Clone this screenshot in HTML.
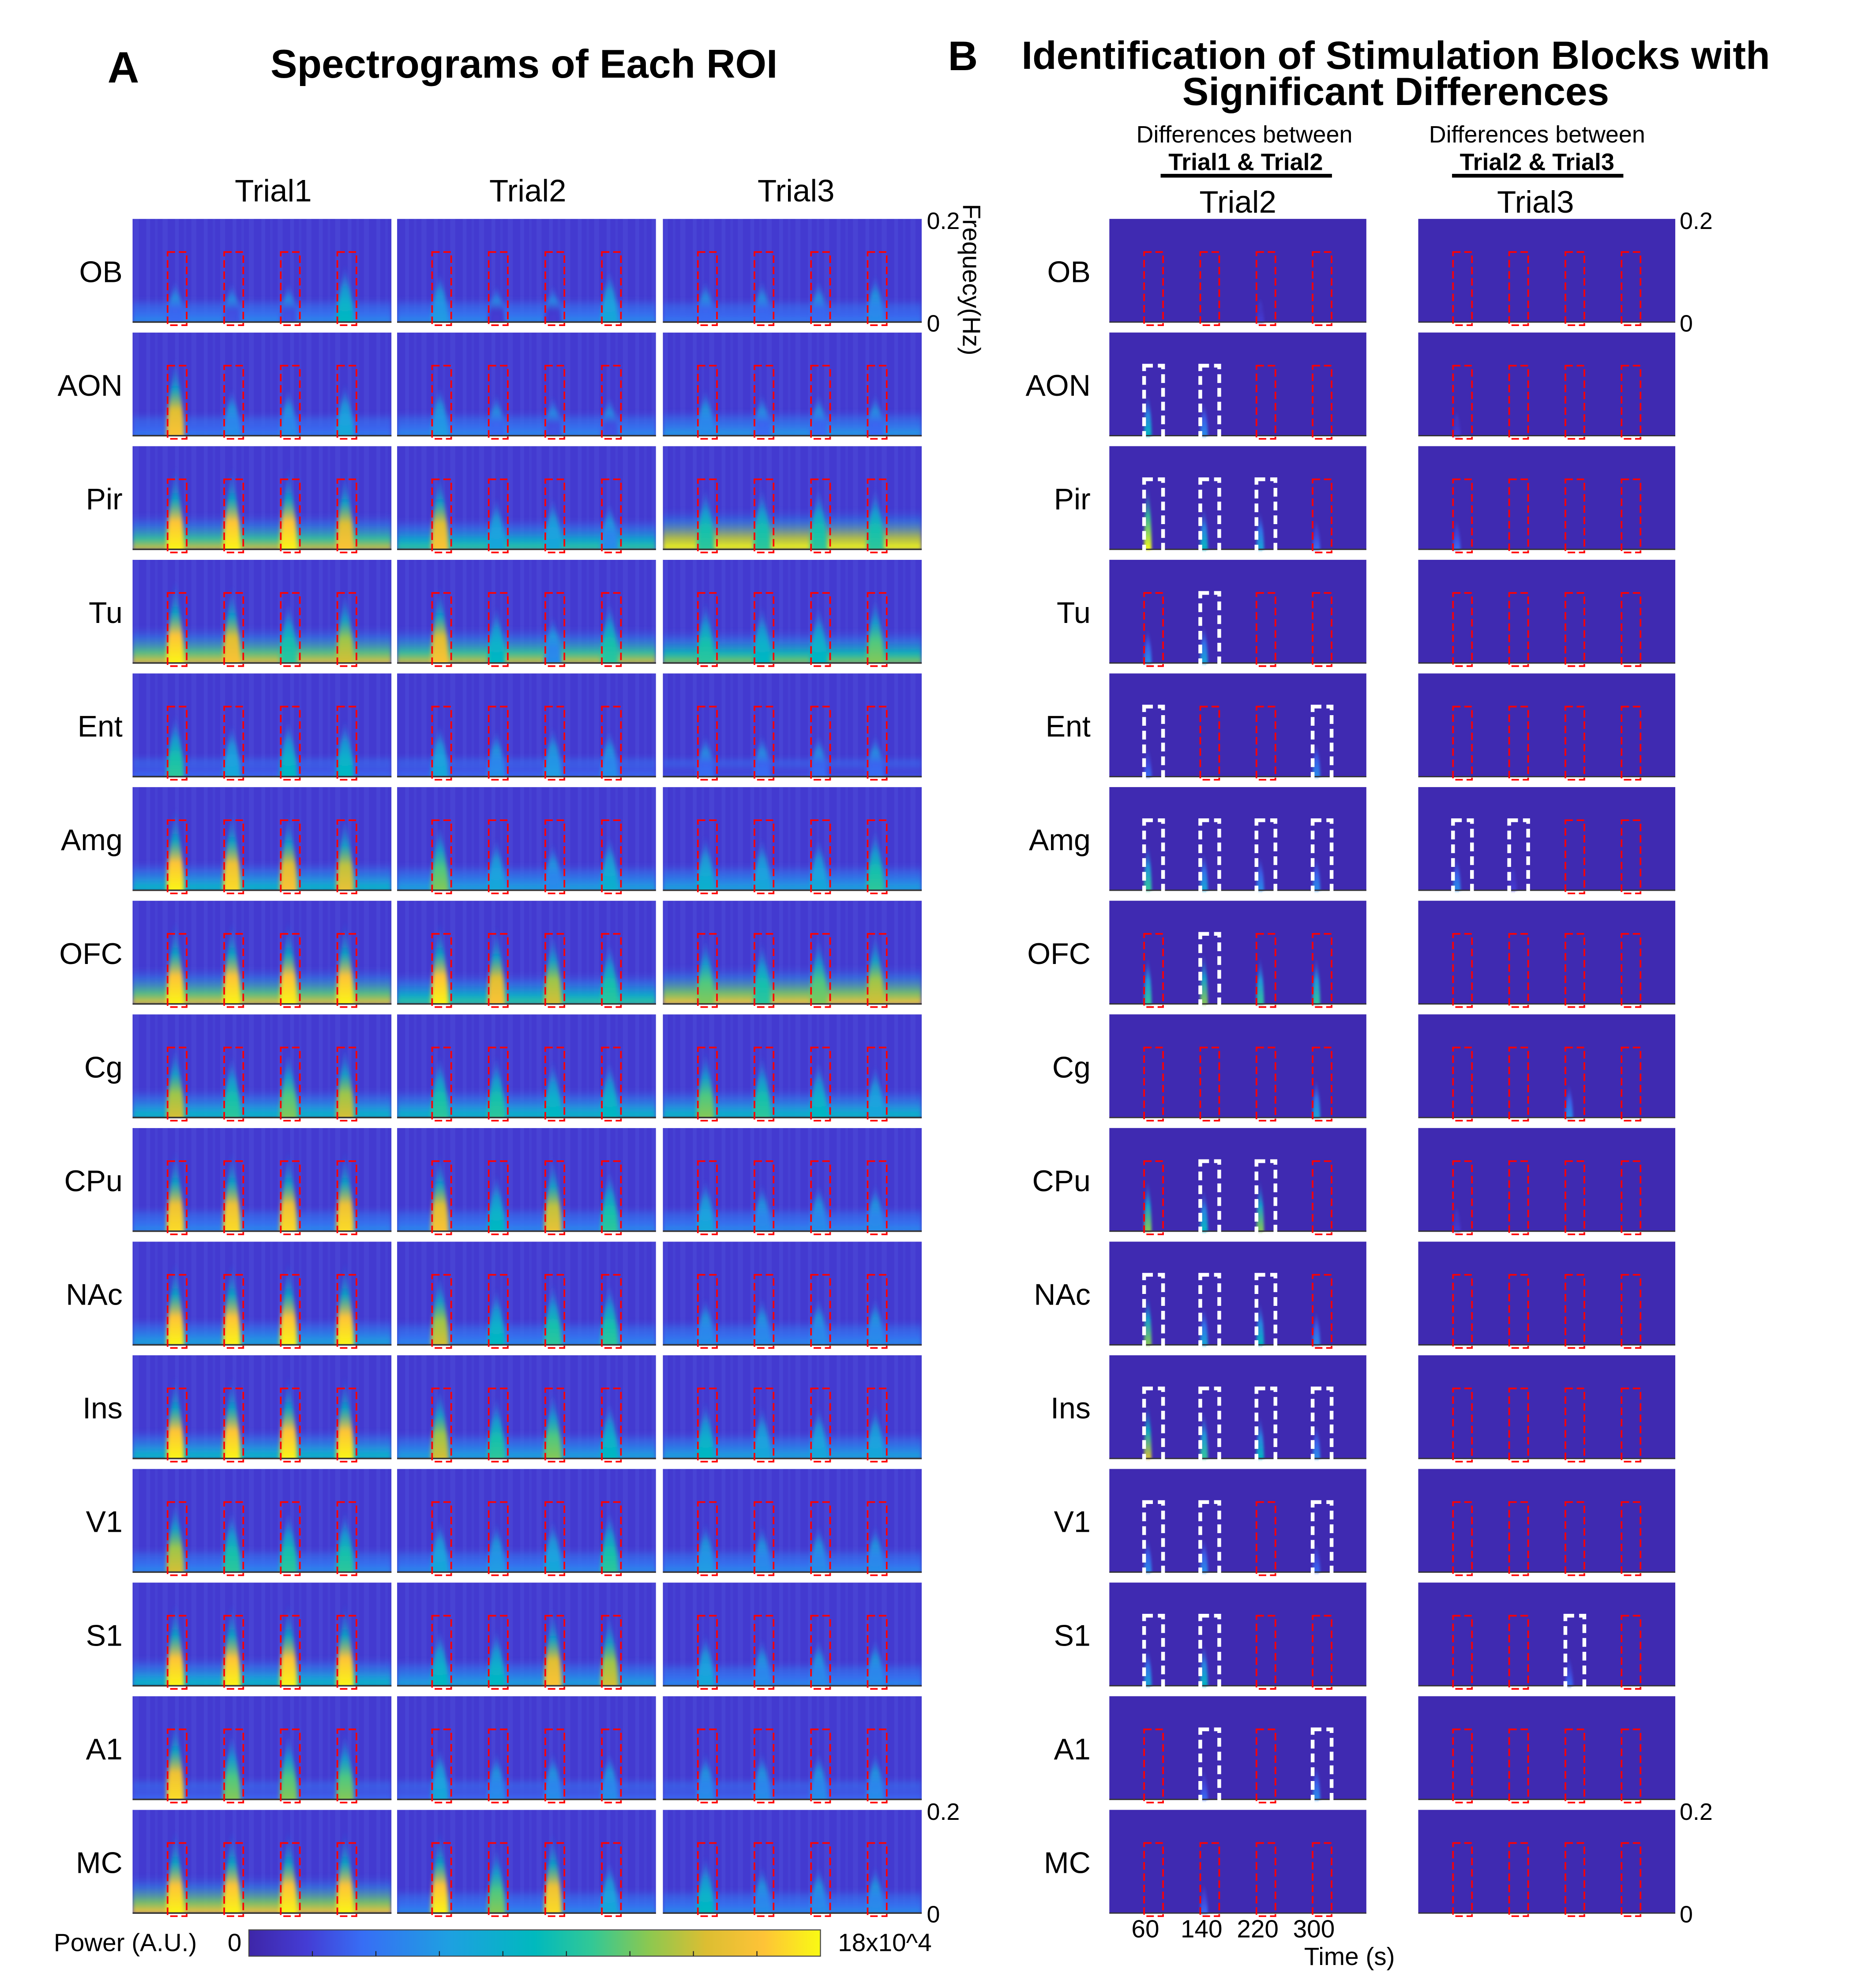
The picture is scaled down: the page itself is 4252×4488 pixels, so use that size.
<!DOCTYPE html>
<html><head><meta charset="utf-8"><title>Spectrograms</title>
<style>
html,body{margin:0;padding:0;background:#fff;}
svg{display:block;}
text{font-family:"Liberation Sans",Arial,sans-serif;fill:#000;}
</style></head>
<body>
<svg id="fig" xmlns="http://www.w3.org/2000/svg" width="4252" height="4488" viewBox="0 0 1500 1583.07" preserveAspectRatio="none">
<defs id="defs">
<filter id="blur" x="-50%" y="-50%" width="200%" height="200%"><feGaussianBlur stdDeviation="1.6"/></filter>
<filter id="blur2" x="-50%" y="-50%" width="200%" height="200%"><feGaussianBlur stdDeviation="1"/></filter>
<pattern id="streaks" patternUnits="userSpaceOnUse" width="23" height="10">
<rect x="2" y="0" width="3" height="10" fill="#7aa0ff" fill-opacity="0.10"/>
<rect x="9" y="0" width="2" height="10" fill="#7aa0ff" fill-opacity="0.06"/>
<rect x="15" y="0" width="4" height="10" fill="#7aa0ff" fill-opacity="0.09"/>
</pattern>
</defs>
<text x="86" y="66" font-size="35" font-weight="bold">A</text>
<text x="419" y="62" font-size="32" font-weight="bold" text-anchor="middle">Spectrograms of Each ROI</text>
<text x="758" y="56" font-size="33" font-weight="bold">B</text>
<text x="1116" y="55" font-size="31.5" font-weight="bold" text-anchor="middle">Identification of Stimulation Blocks with</text>
<text x="1116" y="84" font-size="31.5" font-weight="bold" text-anchor="middle">Significant Differences</text>
<text x="995" y="114" font-size="19" text-anchor="middle">Differences between</text>
<text x="1229" y="114" font-size="19" text-anchor="middle">Differences between</text>
<text x="996" y="136" font-size="19" font-weight="bold" text-anchor="middle">Trial1 &amp; Trial2</text>
<text x="1229" y="136" font-size="19" font-weight="bold" text-anchor="middle">Trial2 &amp; Trial3</text>
<rect x="928" y="139" width="137" height="3" fill="#000"/>
<rect x="1161" y="139" width="137" height="3" fill="#000"/>
<text transform="translate(770,163) rotate(90)" font-size="20">Frequecy(Hz)</text>
<text x="43" y="1560" font-size="20">Power (A.U.)</text>
<text x="182" y="1560" font-size="20">0</text>
<text x="670" y="1560" font-size="20">18x10^4</text>
<text x="1079" y="1571" font-size="20" text-anchor="middle">Time (s)</text>
</svg>
<script>
const rois = ['OB','AON','Pir','Tu','Ent','Amg','OFC','Cg','CPu','NAc','Ins','V1','S1','A1','MC'];
const trialsA = ['Trial1','Trial2','Trial3'];
const trialsB = ['Trial2','Trial3'];
const blockStarts = [60,140,220,300];
const blockDur = 27;
const timeTicks = [60,140,220,300];
const freqTicks = ['0.2','0'];
// block peak power per ROI (panel A), per trial
const powerT1 = [[.2,.15,.15,.5],[.9,.3,.3,.4],[1,1,1,.9],[1,.9,.6,.8],[.6,.4,.5,.5],[1,.95,.9,.85],[1,1,1,1],[.8,.6,.7,.8],[.95,.95,.95,.95],[1,1,1,1],[1,1,1,1],[.8,.6,.6,.6],[1,1,1,1],[.95,.7,.7,.7],[1,1,1,1]];
const powerT2 = [[.35,.1,.1,.4],[.35,.2,.15,.15],[.9,.4,.4,.3],[.9,.5,.3,.6],[.4,.3,.35,.3],[.7,.4,.3,.45],[1,.9,.8,.6],[.6,.6,.5,.5],[.9,.5,.85,.6],[.8,.5,.6,.6],[.8,.6,.7,.5],[.4,.35,.4,.6],[.5,.5,.9,.8],[.4,.3,.3,.3],[1,.7,.95,.4]];
const powerT3 = [[.2,.2,.2,.3],[.3,.2,.2,.2],[.6,.6,.6,.6],[.6,.5,.5,.7],[.2,.2,.2,.2],[.45,.4,.4,.6],[.7,.6,.7,.8],[.7,.6,.5,.4],[.4,.3,.3,.3],[.3,.3,.3,.3],[.5,.4,.4,.4],[.35,.3,.3,.3],[.4,.3,.3,.3],[.3,.3,.3,.3],[.5,.3,.3,.3]];
// low-frequency baseline band power per ROI
const bandT1 = [.3,.25,.8,.85,.2,.5,.85,.5,.3,.4,.5,.3,.5,.2,.9];
const bandT2 = [.3,.3,.6,.8,.2,.4,.6,.5,.3,.3,.4,.3,.4,.2,.3];
const bandT3 = [.25,.35,1,.7,.15,.4,.9,.5,.3,.3,.4,.3,.3,.2,.3];
// significance (panel B)
const sigT2 = [[0,0,0,0],[1,1,0,0],[1,1,1,0],[0,1,0,0],[1,0,0,1],[1,1,1,1],[0,1,0,0],[0,0,0,0],[0,1,1,0],[1,1,1,0],[1,1,1,1],[1,1,0,1],[1,1,0,0],[0,1,0,1],[0,0,0,0]];
const sigT3 = [[0,0,0,0],[0,0,0,0],[0,0,0,0],[0,0,0,0],[0,0,0,0],[1,1,0,0],[0,0,0,0],[0,0,0,0],[0,0,0,0],[0,0,0,0],[0,0,0,0],[0,0,0,0],[0,0,1,0],[0,0,0,0],[0,0,0,0]];
const diffT2 = [[0,0,.1,0],[.5,.3,0,0],[1,.5,.4,.2],[.3,.4,0,0],[.2,0,0,.3],[.6,.4,.3,.3],[.6,.7,.6,.6],[0,0,0,.4],[.7,.5,.7,0],[.7,.4,.5,.3],[.8,.6,.5,.3],[.3,.3,0,.2],[.4,.5,0,0],[0,.2,0,.3],[0,.2,0,0]];
const diffT3 = [[0,0,0,0],[.1,0,0,0],[.2,0,0,0],[0,0,0,0],[0,0,0,0],[.3,.1,0,0],[0,0,0,0],[0,0,.3,0],[.1,0,0,0],[0,0,0,0],[0,0,0,0],[0,0,0,0],[0,0,.2,0],[0,0,0,0],[0,0,0,0]];

const NS='http://www.w3.org/2000/svg';
const svg=document.getElementById('fig');
const defs=document.getElementById('defs');
const tMin=10.5, tMax=376.5;
const rowTop0=175, rowPitch=90.86, panelH=83;
const aLefts=[106,317.5,530], aW=207;
const bLefts=[887,1134], bW=205.5;
const headerOffA=[9,1,3], headerOffB=[0,-9];
const PAR=[[0,[62,38,168]],[.1,[68,60,212]],[.2,[55,110,245]],[.35,[30,160,225]],[.5,[0,185,190]],[.6,[50,200,150]],[.7,[140,200,80]],[.8,[220,190,50]],[.9,[254,195,55]],[1,[249,250,20]]];
function parula(v){v=Math.max(0,Math.min(1,v));for(let i=1;i<PAR.length;i++){if(v<=PAR[i][0]){const a=PAR[i-1],b=PAR[i];const f=(v-a[0])/(b[0]-a[0]);const c=a[1].map((x,k)=>Math.round(x+(b[1][k]-x)*f));return 'rgb('+c.join(',')+')';}}return 'rgb(249,250,20)';}
function mk(tag,attrs,parent){const e=document.createElementNS(NS,tag);for(const k in attrs)e.setAttribute(k,attrs[k]);(parent||svg).appendChild(e);return e;}
let gid=0;
function vgrad(stops){const id='g'+(gid++);const g=mk('linearGradient',{id:id,x1:0,y1:1,x2:0,y2:0},defs);stops.forEach(s=>mk('stop',{offset:s[0],'stop-color':s[1],'stop-opacity':s[2]},g));return id;}
function xScale(t,left,w){return left+(t-tMin)/(tMax-tMin)*w;}
function flame(cx,base,h,w){return 'M'+(cx-w)+','+base+' C'+(cx-w)+','+(base-h*0.4)+' '+(cx-1.5)+','+(base-h*0.75)+' '+cx+','+(base-h)+' C'+(cx+1.5)+','+(base-h*0.75)+' '+(cx+w)+','+(base-h*0.4)+' '+(cx+w)+','+base+' Z';}

// panel A
const powerA=[powerT1,powerT2,powerT3], bandA=[bandT1,bandT2,bandT3];
rois.forEach((roi,r)=>{
  const top=rowTop0+r*rowPitch;
  const lab=mk('text',{x:98,y:top+panelH/2+9,'font-size':24,'text-anchor':'end'});
  lab.textContent=roi;
  
  
  trialsA.forEach((tr,c)=>{
    const left=aLefts[c];
    const g=mk('g',{});
    
    
    const cp='cp'+(gid++);const cpe=mk('clipPath',{id:cp},defs);mk('rect',{x:left,y:top,width:aW,height:panelH},cpe);
    g.setAttribute('clip-path','url(#'+cp+')');
    const band=bandA[c][r];
    const bgr=mk('rect',{x:left,y:top,width:aW,height:panelH,fill:parula(0.09)},g);
    
    
    const st=mk('rect',{x:left,y:top,width:aW,height:panelH,fill:'url(#streaks)'},g);
    
    
    const bh=panelH*(0.18+0.22*band);
    const bgid=vgrad([[0,parula(band),1],[0.3,parula(band*0.75),0.9],[0.7,parula(0.2+band*0.1),0.5],[1,parula(0.15),0]]);
    const br=mk('rect',{x:left,y:top+panelH-bh,width:aW,height:bh,fill:'url(#'+bgid+')',filter:'url(#blur)'},g);
    
    
    powerA[c][r].forEach((p,i)=>{
      const x1=xScale(blockStarts[i],left,aW),x2=xScale(blockStarts[i]+blockDur,left,aW);
      const cx=(x1+x2)/2-1.5;
      const h=panelH*(0.35+0.5*p);
      const base=top+panelH+2;
      const gi=vgrad([[0,parula(p),1],[0.35,parula(p*0.9),1],[0.6,parula(0.3+p*0.2),0.8],[1,parula(0.2),0]]);
      const bl=mk('path',{d:flame(cx,base,h,7),fill:'url(#'+gi+')',filter:'url(#blur)'},g);
      
      
    });
    const ax=mk('line',{x1:left,y1:top+panelH-0.5,x2:left+aW,y2:top+panelH-0.5,stroke:'#333','stroke-width':1.2});
    
    
    blockStarts.forEach((t,i)=>{
      const x1=xScale(t,left,aW),x2=xScale(t+blockDur,left,aW);
      const bx=mk('rect',{x:x1,y:top+26.5,width:x2-x1,height:panelH-24.5,fill:'none',stroke:'#ff0000','stroke-width':1.3,'stroke-dasharray':'6 3'});
      
      
    });
  });
});
trialsA.forEach((tr,c)=>{
  const t=mk('text',{x:aLefts[c]+aW/2+headerOffA[c],y:161,'font-size':25,'text-anchor':'middle'});
  t.textContent=tr;
  
  
});

// panel B
const sigB=[sigT2,sigT3], diffB=[diffT2,diffT3];
rois.forEach((roi,r)=>{
  const top=rowTop0+r*rowPitch;
  const lab=mk('text',{x:872,y:top+panelH/2+9,'font-size':24,'text-anchor':'end'});
  lab.textContent=roi;
  
  
  trialsB.forEach((tr,c)=>{
    const left=bLefts[c];
    const g=mk('g',{});
    
    
    const bgr=mk('rect',{x:left,y:top,width:bW,height:panelH,fill:parula(0.02)},g);
    
    
    diffB[c][r].forEach((p,i)=>{
      if(p<=0)return;
      const x1=xScale(blockStarts[i],left,bW);
      const cx=x1+3;
      const h=panelH*(0.2+0.45*p);
      const base=top+panelH;
      const gi=vgrad([[0,parula(p),1],[0.5,parula(p*0.6),0.9],[1,parula(0.15),0]]);
      const bl=mk('path',{d:flame(cx,base,h,3),fill:'url(#'+gi+')',filter:'url(#blur2)'},g);
      
      
    });
    const ax=mk('line',{x1:left,y1:top+panelH-0.5,x2:left+bW,y2:top+panelH-0.5,stroke:'#333','stroke-width':1});
    
    
    blockStarts.forEach((t,i)=>{
      const x1=xScale(t,left,bW),x2=xScale(t+blockDur,left,bW);
      const sig=sigB[c][r][i]===1;
      const bx=mk('rect',{x:x1,y:top+26.5,width:x2-x1,height:panelH-24.5,fill:'none',stroke:sig?'#ffffff':'#ff0000','stroke-width':sig?3:1.3,'stroke-dasharray':sig?'7 4':'6 3'});
      
      
    });
  });
});
trialsB.forEach((tr,c)=>{
  const t=mk('text',{x:bLefts[c]+bW/2+headerOffB[c],y:170,'font-size':25,'text-anchor':'middle'});
  t.textContent=tr;
  
  
});

// frequency tick labels
[[741,0],[1343,0],[741,14],[1343,14]].forEach(p=>{
  const top=rowTop0+p[1]*rowPitch;
  freqTicks.forEach((lbl,k)=>{
    const y=k===0?top+8:top+panelH+7;
    const t=mk('text',{x:p[0],y:y,'font-size':19});
    t.textContent=lbl;
    
    
  });
});
// time ticks
timeTicks.forEach(v=>{
  const t=mk('text',{x:xScale(v,bLefts[0],bW)+1,y:1549,'font-size':20,'text-anchor':'middle'});
  t.textContent=String(v);
  
  
});
// colorbar
const lg=mk('linearGradient',{id:'cb',x1:0,y1:0,x2:1,y2:0},defs);
PAR.forEach(s=>mk('stop',{offset:s[0],'stop-color':parula(s[0])},lg));
const cb=mk('rect',{x:199,y:1543,width:457,height:21,fill:'url(#cb)',stroke:'#444','stroke-width':0.8});


for(let i=1;i<9;i++){
  const x=199+457*i/9;
  const tk=mk('line',{x1:x,y1:1564,x2:x,y2:1560,stroke:'#222','stroke-width':0.8});
  
  
}
</script>
</body></html>
